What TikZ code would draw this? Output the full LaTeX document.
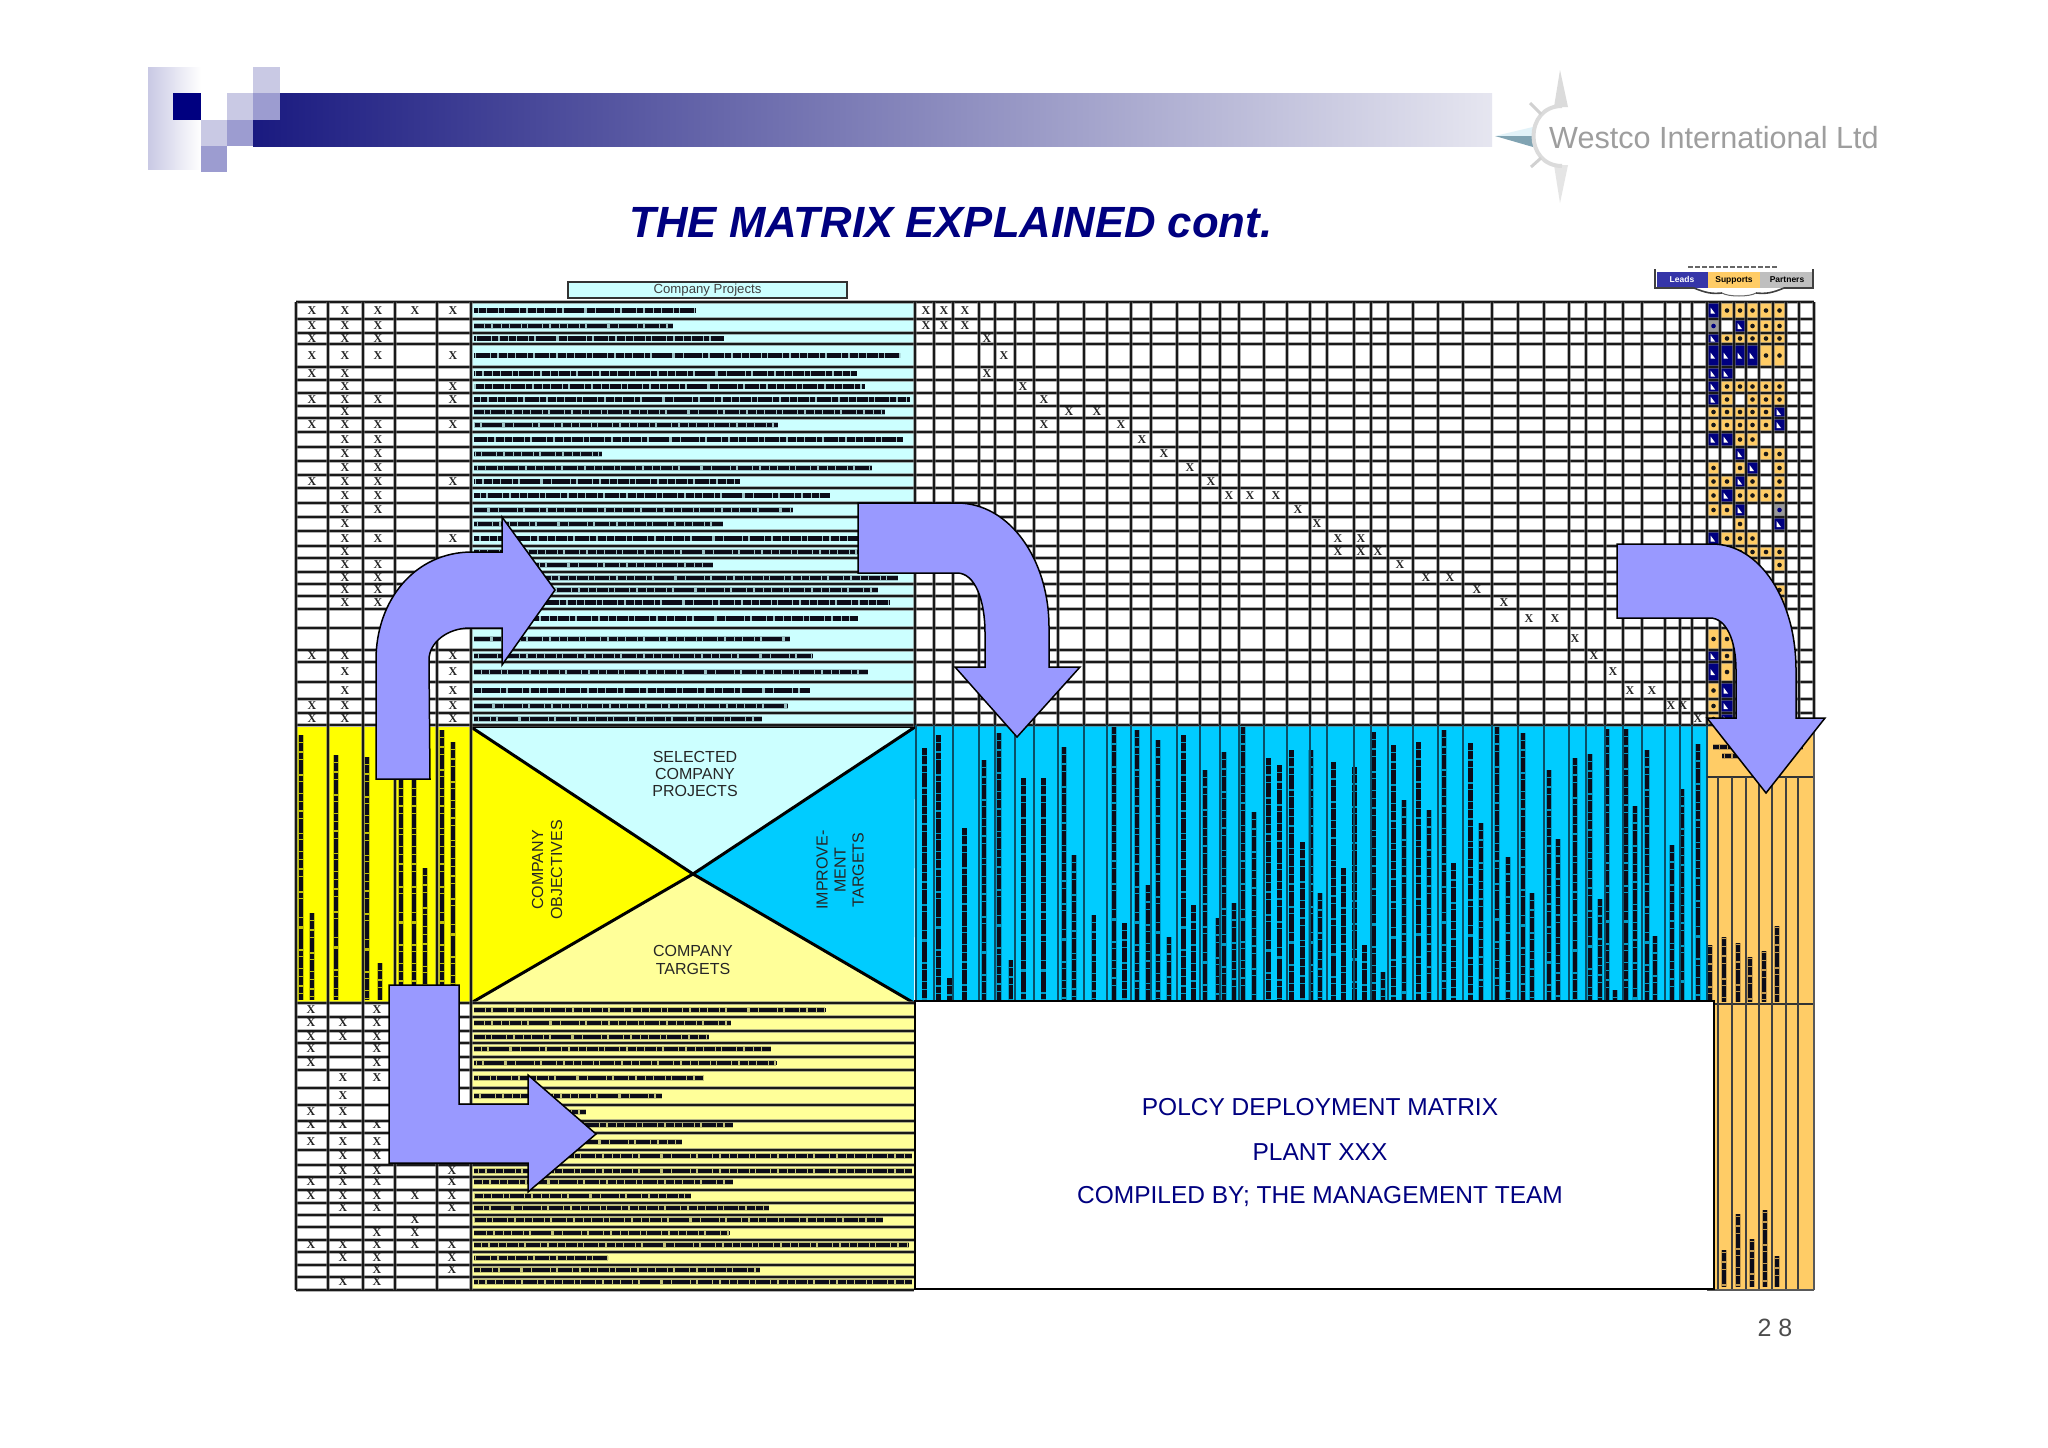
\documentclass[tikz,border=0pt]{standalone}
\usepackage{fontspec}
\setmainfont{Liberation Sans}
\newfontfamily\xfont{Liberation Serif}
\definecolor{navy}{HTML}{000080}
\definecolor{barA}{HTML}{1A1A80}
\definecolor{barB}{HTML}{85829F}
\definecolor{barC}{HTML}{E6E6F0}
\definecolor{paleL}{HTML}{C9C9E4}
\definecolor{medL}{HTML}{9C9CD0}
\definecolor{arrowfill}{HTML}{9999FF}
\definecolor{cy}{HTML}{CCFFFF}
\definecolor{ye}{HTML}{FFFF00}
\definecolor{lye}{HTML}{FFFF99}
\definecolor{bl}{HTML}{00CCFF}
\definecolor{org}{HTML}{FFCC66}
\definecolor{tealline}{HTML}{0A4F68}
\definecolor{ink}{HTML}{0C0C18}
\definecolor{legblue}{HTML}{3535A8}
\tikzset{
  arrowshape/.style={fill=arrowfill,draw=black,line width=1.5pt,line join=miter},
  xm/.style={font=\xfont\bfseries\fontsize{12}{12}\selectfont,text=black!85,inner sep=0pt},
  under/.style={draw=black!55,line width=3.8pt,opacity=.55},
  over/.style={draw=black!90,line width=2pt},
  smearbase/.style={draw=ink,line width=5.5pt,opacity=.25},
  smeardash/.style={draw=ink,line width=4.4pt,dash pattern=on 7pt off .8pt on 11pt off 1pt on 5pt off 1.6pt on 14pt off .8pt on 6pt off 2.2pt on 8pt off 1pt},
  trilabel/.style={font=\fontsize{16}{18}\selectfont,text=black!85,align=center,inner sep=0pt},
  bigtext/.style={font=\fontsize{24.5}{26}\selectfont,text=navy,inner sep=0pt},
  leg/.style={font=\bfseries\fontsize{8.5}{9}\selectfont,inner sep=0pt},
}
\newcommand\smearh[3]{\draw[smearbase] (#2,#1) -- (#3,#1);\draw[smeardash,dash phase=#3 pt] (#2,#1) -- (#3,#1);}
\newcommand\smearv[3]{\draw[smearbase] (#1,#3) -- (#1,#2);\draw[smeardash,dash phase=#2 pt] (#1,#3) -- (#1,#2);}
\newcommand\gl[1]{\draw[under] #1;\draw[over] #1;}
\newcommand\cellL[4]{\fill[navy] (#1,#3) rectangle (#2,#4);\fill[white] ({#1+3.5},{(#3+#4)/2-3}) -- ({#1+3.5},{(#3+#4)/2+3}) -- ({#1+8},{(#3+#4)/2+3}) -- cycle;}
\newcommand\cellS[4]{\fill[org] (#1,#3) rectangle (#2,#4);\fill[black!90] ({(#1+#2)/2},{(#3+#4)/2}) circle[radius=2.3pt];}
\newcommand\cellP[4]{\fill[black!40] (#1,#3) rectangle (#2,#4);\fill[navy] ({(#1+#2)/2},{(#3+#4)/2}) circle[radius=2.3pt];}
\begin{document}
\begin{tikzpicture}[x=1pt,y=-1pt]
\useasboundingbox (0,0) rectangle (2048,1448);
\fill[white] (0,0) rectangle (2048,1448);
% header bar
\shade[left color=paleL,right color=white] (148,67) rectangle (201,169);
\shade[left color=barA,middle color=barB,right color=barC] (253,93) rectangle (1492,146);
\fill[white] (253,93) rectangle (280,120);
\fill[navy] (173,93) rectangle (201,120);
\fill[white] (201,93) rectangle (227,120);
\fill[paleL] (201,120) rectangle (227,146);
\fill[medL] (201,146) rectangle (227,172);
\fill[paleL] (227,93) rectangle (253,120);
\fill[medL] (227,120) rectangle (253,146);
\fill[paleL] (253,67) rectangle (280,93);
\fill[medL] (253,93) rectangle (280,120);
% compass logo
\fill[black!14] (1560,70) -- (1568,107) -- (1554,107) -- cycle;
\fill[black!10] (1560,203) -- (1568,165) -- (1554,165) -- cycle;
\fill[black!22!cyan!12] (1495,136) -- (1533,127) -- (1533,136) -- cycle;
\fill[blue!30!cyan!40!black!50] (1495,136) -- (1533,147) -- (1533,136) -- cycle;
\draw[black!14,line width=4pt] (1562,106) .. controls (1524,106) and (1524,166) .. (1562,166);
\draw[black!18,line width=3pt] (1530,103) -- (1541,114);
\draw[black!18,line width=3pt] (1531,167) -- (1541,158);
\node[anchor=base west,inner sep=0pt,text=black!38,font=\fontsize{30.6}{32}\selectfont] (logotext) at (1549,148) {Westco International Ltd};
% title
\node[anchor=base,inner sep=0pt,text=navy,font=\bfseries\itshape\fontsize{43.7}{45}\selectfont] (title) at (951,237) {THE MATRIX EXPLAINED cont.};
% company projects box
\node[draw=black!80,line width=1.8pt,fill=cy,minimum width=279pt,minimum height=16pt,inner sep=0pt,text=black!75,font=\fontsize{13.2}{14}\selectfont] (cpbox) at (707.5,290) {Company Projects};
% legend
\fill[legblue] (1657,272) rectangle (1708,288);
\fill[org] (1708,272) rectangle (1760,288);
\fill[black!25] (1760,272) rectangle (1813,288);
\node[leg,text=white] (legL) at (1682,279) {Leads};
\node[leg,text=black] (legS) at (1734,280) {Supports};
\node[leg,text=black] (legP) at (1787,280) {Partners};
\draw[black!75,line width=1.6pt] (1655,269) -- (1655,288) -- (1694,288) .. controls (1706,293) and (1712,294) .. (1722,293);
\draw[black!75,line width=1.6pt] (1813,269) -- (1813,288) -- (1784,288) .. controls (1772,293) and (1766,294) .. (1756,293);
\draw[black!60,line width=1pt] (1722,293) .. controls (1728,297) and (1750,297) .. (1756,293);
\draw[black!60,line width=1.5pt,dash pattern=on 5pt off 2pt] (1688,267) -- (1777,267);
% fills
\fill[cy] (471,302) rectangle (915,727);
\fill[ye] (296,727) rectangle (471,1003);
\fill[lye] (471,1003) rectangle (914,1290);
\fill[bl] (915,725) rectangle (1707,1000);
\fill[org] (1707,725) rectangle (1814,1290);
% centre cross
\fill[cy] (471,727) -- (915,727) -- (693,874) -- cycle;
\fill[ye] (471,727) -- (693,874) -- (471,1003) -- cycle;
\fill[bl] (915,727) -- (693,874) -- (914,1003) -- cycle;
\fill[lye] (471,1003) -- (693,874) -- (914,1003) -- cycle;
\draw[black,line width=3pt] (471,727) -- (693,874) -- (914,1003);
\draw[black,line width=3pt] (915,727) -- (693,874) -- (471,1003);
\draw[black,line width=2.6pt] (471,727) -- (915,727);
\node[trilabel] (lblA) at (695,774) {SELECTED\\[-1pt]COMPANY\\[-1pt]PROJECTS};
\node[trilabel,rotate=90] (lblB) at (547,870) {COMPANY\\[1pt]OBJECTIVES};
\node[trilabel,rotate=90] (lblC) at (840,870) {IMPROVE-\\MENT\\TARGETS};
\node[trilabel] (lblD) at (693,959.5) {COMPANY\\TARGETS};
% matrix cells
\foreach \ya/\yb/\cs in {
 302/319/{1/L,2/S,3/S,4/S,5/S,6/S},
 319/333/{1/P,3/L,4/S,5/S,6/S},
 333/344/{1/L,2/S,3/S,4/S,5/S,6/S},
 344/367/{1/L,2/L,3/L,4/L,5/S,6/S},
 367/380/{1/L,2/L},
 380/393/{1/L,2/S,3/S,4/S,5/S,6/S},
 393/406/{1/L,2/S,4/S,5/S,6/S},
 406/418/{1/S,2/S,3/S,4/S,5/S,6/L},
 418/432/{1/S,2/S,3/S,4/S,5/S,6/L},
 432/447/{1/L,2/L,3/S,4/S},
 447/461/{3/L,5/S,6/S},
 461/475/{1/S,3/S,4/L,6/S},
 475/488/{1/S,2/S,3/L,4/S,6/S},
 488/503/{1/S,2/L,3/S,4/S,5/S,6/S},
 503/517/{1/S,2/S,3/L,6/P},
 517/531/{3/S,6/L},
 531/546/{1/L,2/S,3/S,4/S},
 546/558/{3/S,4/S,5/S,6/S},
 558/572/{4/S,6/S},
 584/596/{6/S},
 596/609/{6/S},
 628/650/{1/S,2/S},
 650/662/{1/L,2/S},
 662/682/{1/L,2/S},
 682/699/{1/S,2/L},
 699/713/{1/S,2/L},
 713/725/{1/S,2/L}}{
  \foreach \c/\k in \cs {
    \pgfmathsetmacro\xa{{0,1707,1720,1734,1746,1759,1773}[\c]}
    \pgfmathsetmacro\xb{{0,1720,1734,1746,1759,1773,1786}[\c]}
    \csname cell\k\endcsname{\xa}{\xb}{\ya}{\yb}
  }
}
% text smears, upper list
\foreach \y/\e in {310.5/696,326/673,338.5/724,355.5/900,373.5/857,386.5/865,399.5/910,412/885,425/778,439.5/903,454/602,468/872,481.5/740,495.5/830,510/793,524/723,538.5/860,552/870,565/713,578/898,590/878,602.5/890,618.5/858,639/790,656/813,672/868,690.5/810,706/788,719/762}{\smearh{\y}{474}{\e}}
% text smears, lower list
\foreach \y/\e in {1010/825,1023/731,1037/709,1049/771,1063/776,1078/704,1096/662,1112/586,1125/733,1142/682,1156/912,1171/912,1182/733,1196/691,1208/769,1220/883,1233/729,1245/909,1258/608,1270/760,1282/912}{\smearh{\y}{474}{\e}}
% yellow column smears
\foreach \x/\t/\b in {301/735/1000,312/913/1000,336/755/1000,367/757/1000,380/963/1000,401/730/1000,414/730/1000,425/868/1000,442/730/1000,453/742/1000}{\smearv{\x}{\t}{\b}}
% blue column smears
\foreach \x/\t in {924.5/748,938.3/735,949.4/978,964.4/828,984.2/760,998.8/733,1010.7/960,1023.3/778,1043.5/778,1064/747,1073.9/855,1093.7/915,1114.2/727,1124.5/923,1137.2/730,1148.2/885,1158.1/740,1168.8/937,1183.4/735,1193.3/905,1205.1/770,1218.2/918,1224.1/752,1234/903,1243.1/727,1253.8/812,1268.4/758,1279.4/765,1291.3/750,1302.4/842,1311.1/750,1319.8/893,1333.6/762,1343.5/868,1354.5/767,1364.4/945,1373.5/732,1383/972,1393.3/745,1404/800,1418.6/742,1428.9/810,1443.9/730,1453.4/863,1470.4/743,1481/823,1496.8/727,1508/857,1523/733,1532/893,1549/770,1558/839,1575/758,1590/754,1600/899,1607/729,1615/990,1626/729,1635/806,1647/750,1655/936,1672/845,1682/789,1698/744}{\smearv{\x}{\t}{1000}}
% orange column smears
\foreach \x/\t/\b in {1710/945/1002,1724/937/1002,1738/943/1002,1750/957/1002,1764/951/1002,1777/926/1002,1724/1250/1287,1738/1214/1287,1752/1239/1287,1765/1210/1287,1777/1256/1287}{\smearv{\x}{\t}{\b}}
\smearh{747}{1713}{1803}
\smearh{756}{1722}{1790}
% grid lines: upper block rows
\foreach \y in {302,319,333,344,367,380,393,406,418,432,447,461,475,488,503,517,531,546,558,572,584,596,609,628,650,662,682,699,713,725}{\gl{(296,\y) -- (1814,\y)}}
% grid lines: lower block rows
\foreach \y in {1003,1017,1031,1043,1057,1070,1088,1105,1121,1133,1150,1165,1177,1190,1203,1215,1227,1240,1252,1265,1277,1290}{\gl{(296,\y) -- (914,\y)}}
% left columns
\foreach \x in {296,328,363,395,437,471}{\gl{(\x,302) -- (\x,1290)}}
\gl{(915,302) -- (915,727)}
% right grid columns
\foreach \x in {934,953,979,995,1015,1034,1058,1084,1107,1131,1151,1177,1200,1220,1239,1264,1287,1310,1327,1354,1371,1388,1413,1438,1463,1492,1518,1544,1569,1586,1605,1623,1642,1665,1680,1692,1707,1720,1734,1746,1759,1773,1786,1799,1814}{\gl{(\x,302) -- (\x,725)}}
% blue band columns
\foreach \x in {916,934,953,979,995,1015,1034,1058,1084,1107,1131,1151,1177,1200,1220,1239,1264,1287,1310,1327,1354,1371,1388,1413,1438,1463,1492,1518,1544,1569,1586,1605,1623,1642,1665,1680,1692,1707}{\draw[tealline,line width=1.8pt] (\x,725) -- (\x,1000);}
% orange columns
\draw[black!80,line width=1.8pt] (1707,777) -- (1814,777);
\draw[black!80,line width=1.8pt] (1713,1004) -- (1814,1004);
\foreach \x in {1718,1732,1746,1759,1772,1786,1798}{\draw[black!75,line width=1.8pt] (\x,777) -- (\x,1289);}
\draw[black!65,line width=2.6pt] (1814,725) -- (1814,1290);
\draw[black!65,line width=2.4pt] (1707,1290) -- (1814,1290);
% white panel
\node[draw=black,line width=1.6pt,fill=white,minimum width=799pt,minimum height=288pt,inner sep=0pt,anchor=north west] (panel) at (914,1000) {};
\node[bigtext] (t1) at (1320,1107) {POLCY DEPLOYMENT MATRIX};
\node[bigtext] (t2) at (1320,1152) {PLANT XXX};
\node[bigtext] (t3) at (1320,1196.5) {COMPILED BY; THE MANAGEMENT TEAM};
\node[inner sep=0pt,text=black!70,font=\fontsize{25}{26}\selectfont] (pageno) at (1775,1328) {2 8};
% X marks, left block
\foreach \y/\cs [count=\i] in {
 310.5/{312,345,378,415,453},326/{312,345,378},338.5/{312,345,378},355.5/{312,345,378,453},
 373.5/{312,345},386.5/{345,453},399.5/{312,345,378,453},412/{345},425/{312,345,378,453},
 439.5/{345,378},454/{345,378},468/{345,378},481.5/{312,345,378,453},495.5/{345,378},
 510/{345,378},524/{345},538.5/{345,378,453},552/{345},565/{345,378},578/{345,378},590/{345,378},
 602.5/{345,378},656/{312,345,453},672/{345,453},690.5/{345,453},706/{312,345,453},719/{312,345,453},
 1010/{311,377},1023/{311,343,377},1037/{311,343,377},1049/{311,377},1063/{311,377},1078/{343,377},
 1096/{343},1112/{311,343},1125/{311,343,377},1142/{311,343,377},1156/{343,377},
 1171/{343,377,452},1182/{311,343,377,452},1196/{311,343,377,415,452},1208/{343,377,452},
 1220/{415},1233/{377,415},1245/{311,343,377,415,452},1258/{343,377,452},1270/{377,452},1282/{343,377}}{
  \foreach \x [count=\j] in \cs {\node[xm] (xl\i-\j) at (\x,\y) {X};}
}
% X marks, right block
\foreach \y/\cs [count=\i] in {
 310.5/{926,944,965},326/{926,944,965},338.5/{987},355.5/{1004},373.5/{987},386.5/{1023},399.5/{1044},
 412/{1069,1097},425/{1044,1121},439.5/{1142},454/{1164},468/{1190},481.5/{1211},495.5/{1229,1250,1276},
 510/{1298},524/{1317},538.5/{1338,1361},552/{1338,1361,1378},565/{1400},578/{1426,1450},590/{1477},
 602.5/{1504},618.5/{1529,1555},639/{1575},656/{1594},672/{1613},690.5/{1630,1652},706/{1671,1683},719/{1698}}{
  \foreach \x [count=\j] in \cs {\node[xm] (xr\i-\j) at (\x,\y) {X};}
}
% block arrows
\draw[arrowshape] (376,779) -- (376,660) .. controls (376,600) and (415,552) .. (472,552) -- (502,552) -- (502,517) -- (555,590) -- (502,665) -- (502,628) -- (470,628) .. controls (448,628) and (429,642) .. (429,660) -- (430,779) -- cycle;
\draw[arrowshape] (858,503) -- (957,503) .. controls (1010,503) and (1049,560) .. (1049,627) -- (1049,667) -- (1080,667) -- (1017,737) -- (955,667) -- (985,667) -- (985,633) .. controls (985,600) and (975,573) .. (957,573) -- (858,573) -- cycle;
\draw[arrowshape] (1617,544) -- (1712,544) .. controls (1760,544) and (1796,600) .. (1796,670) -- (1796,718) -- (1825,718) -- (1766,793) -- (1707,718) -- (1736,718) -- (1736,670) .. controls (1736,640) and (1726,618) .. (1710,618) -- (1617,618) -- cycle;
\draw[arrowshape] (389,985) -- (389,1163) -- (528,1163) -- (528,1192) -- (596,1134) -- (528,1075) -- (528,1104) -- (459,1104) -- (459,985) -- cycle;
\end{tikzpicture}
\end{document}
